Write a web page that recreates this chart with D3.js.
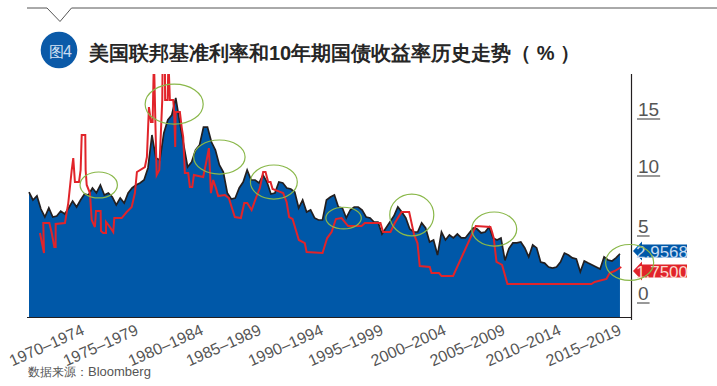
<!DOCTYPE html>
<html><head><meta charset="utf-8">
<script src="https://cdn.jsdelivr.net/npm/d3@7"></script>
<style>
html,body{margin:0;padding:0;background:#fff;}
svg{display:block;}
text{font-family:"Liberation Sans",Arial,sans-serif;}
</style></head><body>
<svg id="c" width="717" height="386"></svg>
<script>
const titleText = "美国联邦基准利率和10年期国债收益率历史走势（ % ）";
const sourceText = "数据来源：";
const sourceName = "Bloomberg";
const badgeText = "图";
const badgeNum = "4";

// 10-year yield, one reading every four months from 1970
const yieldValues = [8.15,7.48,7.82,6.72,6.05,6.81,6.05,6.13,6.55,6.30,6.81,7.39,6.89,7.48,7.98,7.90,8.49,8.07,8.74,7.90,8.07,7.73,7.06,7.65,7.23,8.07,8.49,8.74,8.91,9.16,
10.17,12.94,11.0,10.84,13.11,14.2,14.62,16.05,14.03,12.1,10.25,10.67,11.68,12.1,13.61,13.61,12.35,11.68,10.42,9.83,8.07,7.56,7.64,8.49,8.99,10.0,9.16,9.16,8.91,9.58,
8.99,7.98,8.07,8.99,8.91,8.49,8.40,8.15,6.81,7.48,6.47,6.64,5.97,5.80,5.80,7.48,7.73,7.90,6.89,6.81,5.97,6.64,6.89,6.89,6.64,6.05,5.97,5.63,5.63,4.62,
5.13,5.63,6.13,6.89,6.47,5.97,5.04,4.79,4.79,5.55,5.13,3.95,4.12,2.85,4.79,4.12,4.54,4.29,4.62,4.29,4.29,4.71,5.13,5.04,4.71,4.79,5.21,4.29,4.12,4.29,
2.4,3.4,3.87,3.87,3.95,3.45,2.69,3.70,3.45,2.27,2.18,1.85,1.76,1.85,2.27,3.02,2.86,2.61,2.52,1.45,2.35,2.18,2.02,1.85,1.68,2.69,2.44,2.35,2.61,2.96];

const fedYears = [1970.92,1971.26,1971.2,1971.71,1971.91,1972.13,1972.24,1972.24,1973.02,1973.3,1973.59,1973.72,1973.86,1974.2,1974.34,1974.43,1974.73,1974.76,1974.85,1975.12,1975.27,1975.54,1975.63,1976.02,1976.05,1976.24,1976.47,1976.47,1976.8,1977.08,1977.17,1977.79,1978.21,1978.63,1978.9,1979.07,1979.74,1979.91,1980.08,1980.25,1980.39,1980.5,1980.63,1980.73,1980.95,1981.2,1981.23,1981.42,1981.44,1981.65,1981.72,1981.84,1982.12,1982.2,1982.29,1982.32,1982.68,1982.83,1982.96,1983.1,1983.38,1983.52,1983.72,1983.86,1984.64,1984.93,1985.12,1985.29,1985.48,1985.71,1985.9,1986.46,1986.8,1987.03,1987.3,1987.81,1988.09,1988.34,1988.71,1989.07,1989.4,1989.68,1989.88,1990.1,1990.3,1990.47,1990.94,1991.36,1991.65,1991.86,1992.15,1992.68,1993.18,1993.33,1994.67,1995.06,1995.43,1995.79,1996.27,1996.82,1997.95,1998.22,1999.54,1999.76,2000.38,2000.74,2001.31,2001.95,2002.37,2002.65,2002.84,2003.68,2003.83,2004.46,2004.67,2005.64,2007.55,2008.78,2008.92,2009.06,2009.29,2009.76,2010.21,2017.27,2017.54,2018.53,2018.8,2019.22,2019.78];
const fedRates = [4.70,3.02,5.54,5.54,4.70,3.53,3.53,5.46,5.54,7.22,10.0,11.0,8.99,8.99,10.0,12.94,12.94,10.0,8.74,8.06,5.80,5.21,6.55,6.55,4.87,4.70,4.70,5.63,5.21,4.79,5.96,5.96,6.47,6.89,8.06,9.83,10.25,11.09,15.29,14.03,14.03,19.5,13.61,9.58,10.0,15.88,19.2,19.2,15.88,15.88,19.2,15.88,15.88,14.87,11.93,14.87,14.87,13.61,12.77,9.74,9.74,8.57,8.57,9.58,9.41,10.84,11.84,8.06,9.16,8.48,7.81,7.9,7.64,6.89,6.05,5.96,7.22,7.22,6.64,7.64,8.48,9.83,9.83,8.99,8.99,8.4,8.23,8.06,7.31,6.05,5.88,4.12,3.86,3.11,3.02,4.28,4.79,5.88,5.96,5.29,5.29,5.54,5.54,4.79,4.79,5.54,6.47,6.47,4.54,3.86,1.93,1.85,1.34,1.34,1.09,1.09,5.29,5.21,4.79,4.28,2.27,2.02,0.42,0.42,0.59,0.84,1.34,1.51,1.85];

const xTickLabels = ["1970–1974","1975–1979","1980–1984","1985–1989","1990–1994","1995–1999","2000–2004","2005–2009","2010–2014","2015–2019"];
const xTickYears = [1974.7,1979.23,1984.7,1989.57,1994.78,1999.82,2005.11,2010.06,2014.76,2019.82];
const yTickValues = [0,5,10,15];
const yTickPlaces = [302,235,175,118];

const tagValues = [2.9568,1.75];
const tagLabels = ["2.9568","1.7500"];
const tagColors = ["#0058a8","#e1242a"];
const tagInk = ["#c9dcf2","#fbd9cf"];

const ringYears = [1975.86,1982.2,1986.0,1990.58,1996.44,2002.17,2009.1,2020.48];
const ringRates = [8.74,15.53,11.09,8.99,5.96,6.22,5.04,2.23];
const ringYearSpan = [1.57,2.44,2.16,1.97,1.49,1.85,1.89,2.02];
const ringRateSpan = [1.09,1.68,1.43,1.43,0.91,1.76,1.43,1.51];

const svg = d3.select("#c");
const x = d3.scaleLinear().domain([1970,2019.67]).range([29,620]);
const y = d3.scaleLinear().domain([-2.353,18.067]).range([317,74]);
const yTick = d3.scaleLinear().domain(yTickValues).range(yTickPlaces);
const lightFont = '"Roboto","Liberation Sans",sans-serif';

// header rule with chevron
svg.append("path").attr("d","M27,8H47L60,21.5L71.5,8H717").attr("fill","none").attr("stroke","#555").attr("stroke-width",1);
svg.append("circle").attr("cx",59).attr("cy",50).attr("r",18.3).attr("fill","#0b5aa8");
svg.append("text").attr("x",49).attr("y",56.5).attr("font-size",15).attr("fill","#d6e4f5").attr("font-family",'"Noto Sans CJK SC"').attr("font-weight",300).text(badgeText);
svg.append("text").attr("x",63).attr("y",57).attr("font-size",16).attr("fill","#c9dcf2").attr("font-family",lightFont).attr("font-weight",300).text(badgeNum);
svg.append("text").attr("x",89).attr("y",60).attr("font-size",20).attr("font-weight",700).attr("fill","#262626")
  .attr("font-family",'"Noto Sans CJK SC"').text(titleText);

// clip
svg.append("clipPath").attr("id","plot").append("rect").attr("x",0).attr("y",74).attr("width",717).attr("height",243);

const yieldDates = yieldValues.map((v,i)=>1970+i/3);
const area = d3.area().x((v,i)=>x(yieldDates[i])).y0(y.range()[0]).y1(v=>y(v));
const line = d3.line().x((v,i)=>x(yieldDates[i])).y(v=>y(v));
svg.append("path").datum(yieldValues).attr("d",area).attr("fill","#0058a8");
svg.append("path").datum(yieldValues).attr("d",line).attr("fill","none").attr("stroke","#231f20").attr("stroke-width",1.7).attr("stroke-linejoin","miter");

const fedLine = d3.line().x(d=>x(fedYears[d])).y(d=>y(fedRates[d]));
svg.append("path").datum(d3.range(fedYears.length)).attr("d",fedLine).attr("fill","none")
  .attr("stroke","#e1242a").attr("stroke-width",2).attr("stroke-linejoin","miter").attr("clip-path","url(#plot)");

// x axis
const xAxis = d3.axisBottom(x).tickValues(xTickYears).tickFormat((d,i)=>xTickLabels[i]).tickSize(0);
const gx = svg.append("g").attr("transform","translate(0,317)").call(xAxis);
gx.select(".domain").remove();
gx.selectAll("text").attr("font-family",lightFont).attr("font-weight",300).attr("font-size",16).attr("fill","#555")
  .attr("text-anchor","end").attr("dy",0).attr("y",0).attr("x",0)
  .attr("transform","translate(0,17) rotate(-24)");
svg.append("line").attr("x1",27).attr("x2",632).attr("y1",317.5).attr("y2",317.5).attr("stroke","#231f20").attr("stroke-width",1.2);
svg.append("line").attr("x1",631.5).attr("x2",631.5).attr("y1",74).attr("y2",320).attr("stroke","#231f20").attr("stroke-width",1.2);

// y axis: underlined labels
const yAxis = d3.axisRight(yTick).tickValues(yTickValues).tickSize(0).tickPadding(0);
const gy = svg.append("g").attr("transform","translate(637,0)").call(yAxis);
gy.select(".domain").remove();
gy.selectAll("text").attr("font-family",lightFont).attr("font-weight",300).attr("font-size",19).attr("fill","#555")
  .attr("dy",0).attr("y",-3).attr("x",1);
gy.selectAll(".tick").each(function(){
  const g = d3.select(this);
  const w = g.select("text").node().getComputedTextLength();
  g.select("line").remove();
  g.append("line").attr("x1",0).attr("x2",w+2).attr("y1",0.5).attr("y2",0.5).attr("stroke","#333").attr("stroke-width",1);
});

// value tags
tagValues.forEach((v,i)=>{
  const g = svg.append("g").attr("transform",`translate(0,${Math.round(y(v))+(i?3:-3)})`);
  const p = d3.path();
  p.moveTo(633,0);p.lineTo(642,-9.5);p.lineTo(642,-6.5);p.lineTo(687,-6.5);p.lineTo(687,6.5);p.lineTo(642,6.5);p.lineTo(642,9.5);p.closePath();
  g.append("path").attr("d",p.toString()).attr("fill",tagColors[i]);
  g.append("text").attr("x",636).attr("y",6.5).attr("font-family",lightFont).attr("font-weight",300).attr("font-size",17).attr("fill",tagInk[i]).text(tagLabels[i]);
});

// highlight rings
svg.selectAll("ellipse").data(d3.range(ringYears.length)).join("ellipse")
  .attr("cx",i=>x(ringYears[i])).attr("cy",i=>y(ringRates[i]))
  .attr("rx",i=>x(ringYears[i]+ringYearSpan[i])-x(ringYears[i]))
  .attr("ry",i=>y(ringRates[i])-y(ringRates[i]+ringRateSpan[i]))
  .attr("fill","none").attr("stroke","#8ab84a").attr("stroke-width",1.2);

// source
svg.append("text").attr("x",28).attr("y",376).attr("font-size",12).attr("fill","#555").attr("font-family",'"Noto Sans CJK SC"').attr("font-weight",300).text(sourceText);
svg.append("text").attr("x",88).attr("y",376).attr("font-size",13).attr("fill","#555").attr("font-family",lightFont).attr("font-weight",300).text(sourceName);
</script>
</body></html>
